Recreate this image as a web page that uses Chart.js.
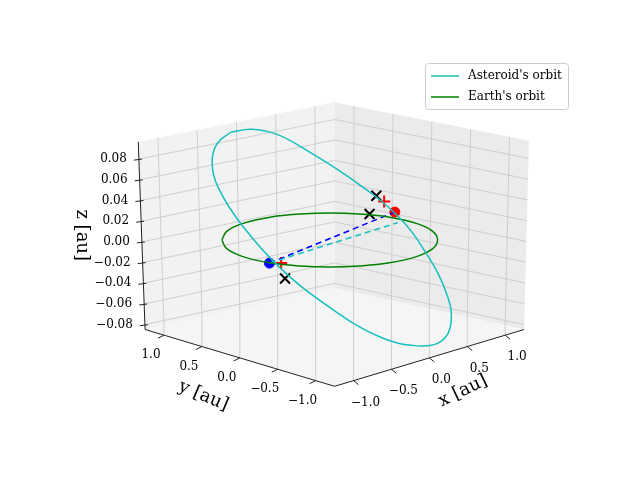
<!DOCTYPE html>
<html><head><meta charset="utf-8">
<script src="https://cdn.jsdelivr.net/npm/chart.js@4.4.1/dist/chart.umd.min.js"></script>
<style>body{margin:0;background:#fff}#wrap{width:640px;height:480px}</style>
</head><body><div id="wrap"><canvas id="c"></canvas></div>
<script>
// orbits (screen-space units)
const asteroidX = [228,250,275,300,350,400,430,450,455,445,420,380,330,280,240,215,209,214,228];
const asteroidY = [128,125,130,143,175,215,255,295,325,345,350,340,310,270,225,185,160,140,128];
const earthX = [219,224,240,270,300,330,360,390,420,436,441,436,420,390,360,330,300,270,240,224,219];
const earthY = [240,231,223,216,213,212,213,216,223,231,240,249,257,264,267,268,267,264,257,249,240];
const asteroidLinkX = [268,400], asteroidLinkY = [264,222];
const earthLinkX = [268,397], earthLinkY = [264,211];
const bluePt = [{x:268,y:264}];
const redPt = [{x:397,y:211}];
const plusPts = [{x:386,y:200},{x:280,y:264}];
const crossPts = [{x:378,y:194},{x:371,y:213},{x:284,y:280}];
const zTicks = ['0.08','0.06','0.04','0.02','0.00','\u22120.02','\u22120.04','\u22120.06','\u22120.08'];
const xTicks = ['\u22121.0','\u22120.5','0.0','0.5','1.0'];
const yTicks = ['1.0','0.5','0.0','\u22120.5','\u22121.0'];
const legendLabels = ["Asteroid's orbit","Earth's orbit"];

const zip = (a,b) => a.map((v,i)=>({x:v,y:b[i]}));
const P = {tl:[133,138],bl:[140,333],tb:[335,97],bb:[335,290],tr:[535,137],br:[530,333],bf:[335,392]};
const lerp=(a,b,t)=>[a[0]+(b[0]-a[0])*t,a[1]+(b[1]-a[1])*t];

const boxPlugin = {
  id:'box',
  beforeDatasetsDraw(chart){
    const c=chart.ctx, sx=chart.scales.x, sy=chart.scales.y;
    const px=p=>[sx.getPixelForValue(p[0]),sy.getPixelForValue(p[1])];
    const poly=(pts,fill)=>{c.beginPath();pts.map(px).forEach((q,i)=>i?c.lineTo(q[0],q[1]):c.moveTo(q[0],q[1]));c.closePath();c.fillStyle=fill;c.fill();};
    poly([P.tl,P.tb,P.bb,P.bl],'#f2f2f2');
    poly([P.tb,P.tr,P.br,P.bb],'#ebebeb');
    poly([P.bl,P.bb,P.br,P.bf],'#f5f5f5');
    const line=(a,b,col,w)=>{const p=px(a),q=px(b);c.beginPath();c.moveTo(p[0],p[1]);c.lineTo(q[0],q[1]);c.strokeStyle=col;c.lineWidth=w;c.stroke();};
    const lineP=(p,q,col,w)=>{c.beginPath();c.moveTo(p[0],p[1]);c.lineTo(q[0],q[1]);c.strokeStyle=col;c.lineWidth=w;c.stroke();};
    c.save();
    const zt=i=>(18+i*21.5)/195;
    for(let i=0;i<9;i++){const t=zt(i);
      const a=lerp(P.tl,P.bl,t),b=lerp(P.tb,P.bb,t),d=lerp(P.tr,P.br,t);
      line(a,b,'#cfcfcf',1);line(b,d,'#cfcfcf',1);}
    for(let i=0;i<5;i++){const t=0.1+i*0.2;
      const f=lerp(P.bf,P.br,t),b=lerp(P.bb,P.br,t),tt=lerp(P.tb,P.tr,t);
      line(f,b,'#cfcfcf',1);line(b,tt,'#cfcfcf',1);}
    for(let i=0;i<5;i++){const t=0.1+i*0.2;
      const f=lerp(P.bl,P.bf,t),b=lerp(P.bl,P.bb,t),tt=lerp(P.tl,P.tb,t);
      line(f,b,'#cfcfcf',1);line(b,tt,'#cfcfcf',1);}
    line(P.tl,P.bl,'#222',1);line(P.bl,P.bf,'#222',1);line(P.bf,P.br,'#222',1);
    c.fillStyle='#000';c.font='12px "DejaVu Serif", serif';c.textBaseline='middle';
    c.textAlign='right';
    zTicks.forEach((s,i)=>{const p=px(lerp(P.tl,P.bl,zt(i)));lineP([p[0]-5,p[1]+1],[p[0]+3,p[1]],'#222',1);c.fillText(s,p[0]-12,p[1]);});
    c.textAlign='center';
    xTicks.forEach((s,i)=>{const p=px(lerp(P.bf,P.br,0.1+i*0.2));lineP([p[0],p[1]],[p[0]+5,p[1]+4],'#222',1);c.fillText(s,p[0]+12,p[1]+22);});
    yTicks.forEach((s,i)=>{const p=px(lerp(P.bl,P.bf,0.1+i*0.2));lineP([p[0],p[1]],[p[0]-6,p[1]+3],'#222',1);c.fillText(s,p[0]-13,p[1]+20);});
    c.font='18px "DejaVu Serif", serif';
    let p=px([467,397]);c.save();c.translate(p[0],p[1]);c.rotate(-0.45);c.fillText('x [au]',0,0);c.restore();
    p=px([200,402]);c.save();c.translate(p[0],p[1]);c.rotate(0.4);c.fillText('y [au]',0,0);c.restore();
    p=px([75,235]);c.save();c.translate(p[0],p[1]);c.rotate(Math.PI/2);c.fillText('z [au]',0,0);c.restore();
    // legend
    c.fillStyle='rgba(255,255,255,0.85)';c.strokeStyle='#ccc';c.lineWidth=1;
    c.beginPath();c.roundRect(425.5,63.5,143,46,3);c.fill();c.stroke();
    c.font='12px "DejaVu Serif", serif';c.textAlign='left';c.fillStyle='#000';
    ['#17bfbf','#008000'].forEach((col,i)=>{const y=76+i*21;
      c.strokeStyle=col;c.lineWidth=1.5;c.beginPath();c.moveTo(431,y);c.lineTo(459,y);c.stroke();
      c.fillText(legendLabels[i],468,y);});
    c.restore();
  }
};

const ln=(label,data,color,dash)=>({label,data,showLine:true,borderColor:color,backgroundColor:color,borderWidth:1.5,pointRadius:0,tension:dash?0:0.4,borderDash:dash?[6,4]:[]});
new Chart(document.getElementById('c'),{
  type:'scatter',
  data:{datasets:[
    ln(legendLabels[0],zip(asteroidX,asteroidY),'#17bfbf',false),
    ln(legendLabels[1],zip(earthX,earthY),'#008000',false),
    ln('a',zip(asteroidLinkX,asteroidLinkY),'#17bfbf',true),
    ln('e',zip(earthLinkX,earthLinkY),'#0000ff',true),
    {label:'b',data:bluePt,pointRadius:5,backgroundColor:'#0000ff',borderColor:'#0000ff'},
    {label:'r',data:redPt,pointRadius:5,backgroundColor:'#ff0000',borderColor:'#ff0000'},
    {label:'p',data:plusPts,pointStyle:'cross',pointRadius:6,borderWidth:2,borderColor:'#ff0000'},
    {label:'c',data:crossPts,pointStyle:'crossRot',pointRadius:7,borderWidth:2,borderColor:'#000'}
  ]},
  options:{responsive:true,maintainAspectRatio:false,animation:false,
    layout:{padding:0},
    scales:{x:{type:'linear',min:0,max:640,display:false},y:{type:'linear',min:0,max:480,reverse:true,display:false}},
    plugins:{tooltip:{enabled:false},legend:{display:false}}
  },
  plugins:[boxPlugin]
});
</script></body></html>
